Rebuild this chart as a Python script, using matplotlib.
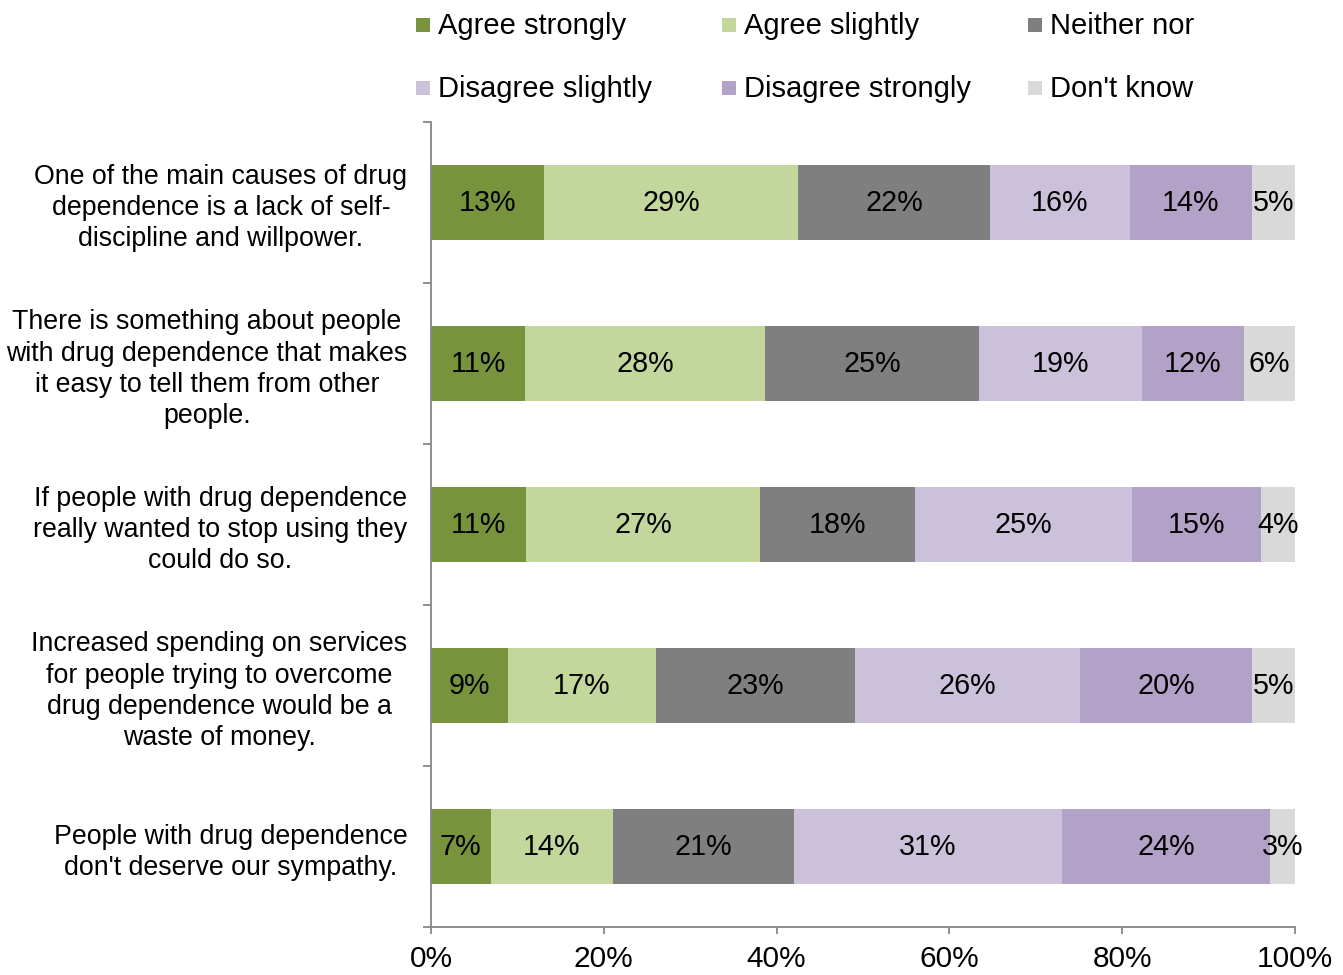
import matplotlib
matplotlib.use("Agg")
import matplotlib.pyplot as plt
from matplotlib.patches import Rectangle
import numpy as np

plt.rcParams['font.family'] = ['Liberation Sans', 'DejaVu Sans']

categories = [
    "One of the main causes of drug\ndependence is a lack of self-\ndiscipline and willpower.",
    "There is something about people\nwith drug dependence that makes\nit easy to tell them from other\npeople.",
    "If people with drug dependence\nreally wanted to stop using they\ncould do so.",
    "Increased spending on services\nfor people trying to overcome\ndrug dependence would be a\nwaste of money.",
    "People with drug dependence\ndon't deserve our sympathy.",
]
series_names = ["Agree strongly", "Agree slightly", "Neither nor",
                "Disagree slightly", "Disagree strongly", "Don't know"]
agree_strongly = [13.1, 10.9, 11.0, 8.9, 6.9]
agree_slightly = [29.4, 27.8, 27.1, 17.1, 14.2]
neither_nor = [22.2, 24.7, 17.9, 23.1, 20.9]
disagree_slightly = [16.2, 18.9, 25.1, 26.0, 31.0]
disagree_strongly = [14.1, 11.8, 15.0, 19.9, 24.1]
dont_know = [5.0, 5.9, 3.9, 5.0, 2.9]
colors = ["#77933C", "#C3D69B", "#7F7F7F", "#CCC1DA", "#B3A2C7", "#D9D9D9"]
xticks = [0, 20, 40, 60, 80, 100]

series = [agree_strongly, agree_slightly, neither_nor,
          disagree_slightly, disagree_strongly, dont_know]

W, H = 1343, 975
fig = plt.figure(figsize=(W / 100, H / 100), dpi=100)
ax = fig.add_axes([431 / W, 1 - 927 / H, (1295 - 431) / W, (927 - 122) / H])

y = np.arange(len(categories))
left = np.zeros(len(categories))
FS = 21
CFS = 19.3
for vals, col, name in zip(series, colors, series_names):
    vals = np.array(vals)
    ax.barh(y, vals, left=left, height=0.47, color=col, label=name, edgecolor='none')
    for yi, l, v in zip(y, left, vals):
        ax.text(l + v / 2, yi, f"{round(v)}%", ha='center', va='center', fontsize=FS - 0.3, color='black')
    left = left + vals

ax.set_xlim(0, 100)
ax.set_ylim(len(categories) - 0.5, -0.5)
ax.set_xticks(xticks)
ax.set_xticklabels([f"{t}%" for t in xticks], fontsize=FS + 0.5)
ax.set_yticks(y)
ax.set_yticklabels(categories, fontsize=CFS)
for lab in ax.get_yticklabels():
    lab.set_multialignment('center')
    lab.set_linespacing(1.26)
ax.set_yticks(np.arange(-0.5, len(categories)), minor=True)
ax.tick_params(axis='y', which='major', length=0, pad=17)
ax.tick_params(axis='y', which='minor', length=6, color='#868686', width=1.3)
ax.tick_params(axis='x', which='major', length=5, color='#868686', width=1.3, pad=8)
for s in ['top', 'right']:
    ax.spines[s].set_visible(False)
for s in ['left', 'bottom']:
    ax.spines[s].set_color('#868686')
    ax.spines[s].set_linewidth(1.3)

# legend (manual, 2 rows x 3 columns)
for i, (name, col) in enumerate(zip(series_names, colors)):
    r, c = divmod(i, 3)
    xp = 416 + 306 * c
    yp = 25 + 63 * r
    fig.add_artist(Rectangle((xp / W, 1 - (yp + 7) / H), 14 / W, 14 / H,
                             transform=fig.transFigure, color=col, lw=0))
    fig.text((xp + 22) / W, 1 - (yp + 1) / H, name, fontsize=FS, va='center', ha='left')

fig.savefig("out.png", dpi=100)
